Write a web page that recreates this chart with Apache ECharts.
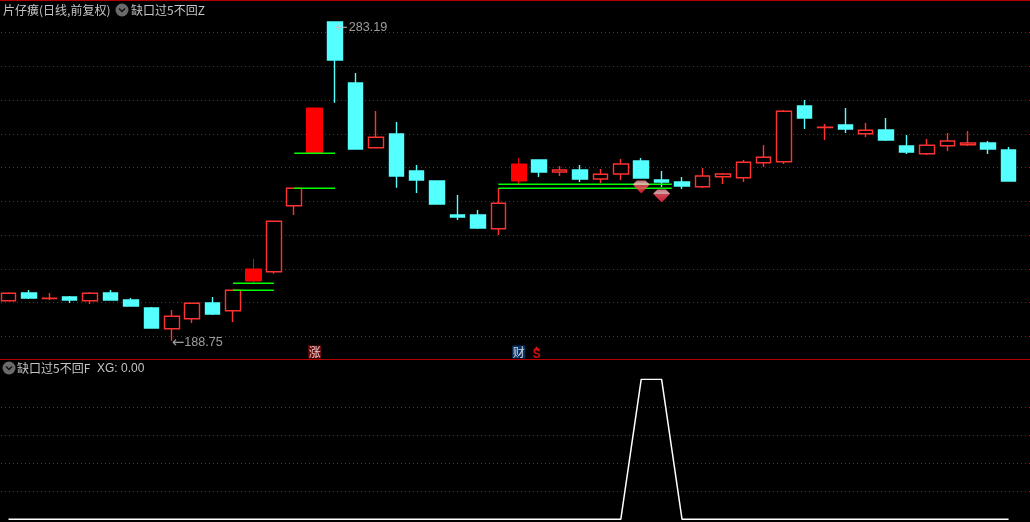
<!DOCTYPE html>
<html>
<head>
<meta charset="utf-8">
<style>html,body{margin:0;padding:0;background:#000}#c{width:1030px;height:522px}</style>
<script src="https://cdn.jsdelivr.net/npm/echarts@6/dist/echarts.min.js"></script>
</head>
<body>
<div id="c"></div>
<script>
// open, close, low, high of each daily candle
const opens  = [200.59,202.87,201.25,201.69,200.59,202.87,200.80,198.43,192.30,195.26,199.91,197.63,206.43,209.19,228.74,244.27,283.19,265.10,245.93,249.99,239.02,236.06,225.99,225.99,221.93,236.06,242.28,238.73,239.32,236.65,238.13,241.99,236.36,235.76,234.37,237.33,237.04,241.48,241.78,258.28,251.92,252.65,250.07,251.17,246.43,244.15,246.52,246.81,247.32,245.25];
const closes = [202.78,201.39,201.35,200.80,202.78,200.80,199.02,192.50,195.97,199.82,196.65,203.67,209.99,224.12,233.90,257.69,271.91,245.54,249.01,237.54,236.36,229.24,225.39,222.13,229.45,241.10,238.73,239.32,236.65,238.04,241.10,236.95,235.76,234.58,237.54,238.13,241.60,243.08,256.71,254.73,252.02,251.47,251.08,248.21,244.65,246.64,247.91,247.32,245.54,236.06];
const lows   = [200.59,201.10,200.80,199.91,199.61,200.80,199.02,192.50,188.75,193.99,196.36,194.28,205.84,208.59,225.99,244.27,259.26,245.54,245.93,234.07,232.50,229.24,224.50,221.84,220.06,235.17,237.24,237.54,235.76,235.47,236.36,236.95,234.28,233.69,233.99,235.17,235.76,240.21,241.10,251.47,248.21,250.28,249.10,247.91,244.06,243.76,244.95,246.43,244.06,236.06];
const highs  = [203.08,203.76,202.87,201.99,203.17,203.76,201.39,198.73,197.84,199.82,201.69,203.67,212.95,224.12,233.90,257.69,283.19,268.06,256.80,253.54,240.80,236.06,231.91,227.47,233.90,242.87,242.28,240.50,240.80,239.62,242.58,242.87,239.02,237.24,239.91,238.43,242.28,246.73,257.10,260.06,252.95,257.69,253.24,254.73,249.69,248.50,250.28,250.87,247.91,246.13];
const solidDays = [12, 15, 25];           // days drawn as a filled red candle
const xgValues = [0,0,0,0,0,0,0,0,0,0,0,0,0,0,0,0,0,0,0,0,0,0,0,0,0,0,0,0,0,0,0,1,1,0,0,0,0,0,0,0,0,0,0,0,0,0,0,0,0,0];
const categories = [...opens.map((_, i) => 'D' + (i + 1)), ''];   // one blank day at the right edge
const gapLines = [[11,13,205.75],[11,13,203.67],[14,16,244.27],[14,16,233.90],[24,32.5,235.08],[24,32.5,233.90]];
const diamondPoints = [[31,234.31],[32,231.62]];
const extremePoints = [[16,283.19,'283.19'],[8,188.75,'188.75']];
const eventPoints = [[15,185.4,'涨','#860a0a'],[25,185.4,'财','#0a3c78']];
const signalPoints = [[26,185.9,'S']];

const RED = '#ff3232', CYAN = '#54ffff', GRID = '#8a1c2c', TXT = '#c4c4c4';
const CJK = '"Noto Sans CJK SC","Liberation Sans",sans-serif';
const LAT = '"Liberation Sans",sans-serif';
const ohlc = i => [opens[i], closes[i], lows[i], highs[i]];
const flatStyle = { color: '#000', color0: CYAN, borderColor: RED, borderColor0: CYAN, borderColorDoji: RED, borderWidth: 1.4 };
const normalData = opens.map((_, i) => solidDays.includes(i) ? ['-','-','-','-'] : ohlc(i));
const solidData  = opens.map((_, i) => solidDays.includes(i) ? ohlc(i) : ['-','-','-','-']);
const dashGrid = { show: true, lineStyle: { color: GRID, type: [1, 3], dashOffset: 1.3, width: 1 }, showMinLine: false, showMaxLine: false };
const chevron = (x, y) => [
  { type: 'circle', shape: { cx: x, cy: y, r: 6.5 }, style: { fill: '#6a6a6a' } },
  { type: 'polyline', shape: { points: [[x - 3, y - 1.5], [x, y + 1.5], [x + 3, y - 1.5]] }, style: { stroke: '#111', lineWidth: 1.5, fill: 'none' } }
];
const headStyle = { color: TXT, fontSize: 12, fontWeight: 'normal', fontFamily: CJK };

const chart = echarts.init(document.getElementById('c'), null, { renderer: 'canvas' });
chart.setOption({
  backgroundColor: '#000',
  animation: false,
  title: [
    { text: '片仔癀(日线,前复权)', left: 3, top: 4, padding: 0, textStyle: headStyle },
    { text: '缺口过5不回Z', left: 131, top: 4, padding: 0, textStyle: headStyle },
    { text: '缺口过5不回F', left: 17, top: 362, padding: 0, textStyle: headStyle },
    { text: 'XG: 0.00', left: 97, top: 363, padding: 0, textStyle: { ...headStyle, fontFamily: LAT } }
  ],
  graphic: [
    { type: 'rect', shape: { x: 0, y: 0, width: 1030, height: 1 }, style: { fill: '#b00000' } },
    { type: 'rect', shape: { x: 0, y: 359, width: 1030, height: 1 }, style: { fill: '#b00000' } },
    ...chevron(122, 10),
    ...chevron(9, 368)
  ],
  grid: [
    { left: -1.7, top: -1.05, width: 1040.9, height: 371.25, outerBoundsMode: 'none' },
    { left: -1.7, top: 379.3, width: 1040.9, height: 140, outerBoundsMode: 'none' }
  ],
  xAxis: [
    { type: 'category', gridIndex: 0, data: categories, show: false },
    { type: 'value', gridIndex: 0, min: -0.5, max: 50.5, show: false },
    { type: 'category', gridIndex: 1, data: categories, show: false }
  ],
  yAxis: [
    { type: 'value', gridIndex: 0, min: 180, max: 290, interval: 10, scale: true,
      axisLine: { show: false }, axisTick: { show: false }, axisLabel: { show: false }, splitLine: dashGrid },
    { type: 'value', gridIndex: 1, min: 0, max: 1, interval: 0.2,
      axisLine: { show: false }, axisTick: { show: false }, axisLabel: { show: false }, splitLine: dashGrid }
  ],
  series: [
    { name: 'K', type: 'candlestick', xAxisIndex: 0, yAxisIndex: 0, barWidth: 15, clip: false,
      data: normalData, itemStyle: flatStyle, z: 3 },
    { name: 'KSolid', type: 'candlestick', xAxisIndex: 0, yAxisIndex: 0, barWidth: 16, clip: false,
      data: solidData, itemStyle: { color: '#ff0000', color0: '#ff0000', borderColor: '#ff0000', borderColor0: '#ff0000', borderWidth: 1 }, z: 3 },
    ...gapLines.map(g => ({
      type: 'line', xAxisIndex: 1, yAxisIndex: 0, data: [[g[0], g[2]], [g[1], g[2]]],
      symbol: 'none', lineStyle: { color: '#00ff00', width: 1.4 }, z: 4, silent: true
    })),
    { type: 'scatter', xAxisIndex: 0, yAxisIndex: 0, data: diamondPoints, z: 6,
      symbol: 'path://M4 0 L12 0 L16 4 L8 12.5 L0 4 Z', symbolSize: [17, 13],
      itemStyle: { color: { type: 'linear', x: 0, y: 0, x2: 0, y2: 1, colorStops: [
        { offset: 0, color: '#ff8a96' }, { offset: 0.3, color: '#ffd0d4' }, { offset: 0.36, color: '#ff5a6c' }, { offset: 1, color: '#ff2038' }
      ] } } },
    { type: 'scatter', xAxisIndex: 0, yAxisIndex: 0, symbolSize: 0, z: 6, clip: false,
      data: extremePoints.map((p, i) => ({ value: [p[0], p[1]],
        label: { show: true, position: 'right', distance: 0, offset: [0, i === 0 ? 6 : 2],
          formatter: '{a|←}{t|' + p[2] + '}',
          rich: { a: { color: TXT, fontSize: 15, fontFamily: '"DejaVu Sans",sans-serif', padding: [0, i === 0 ? 1 : 0, 0, 0] },
                  t: { color: TXT, fontSize: 12.6, fontFamily: LAT } } } })) },
    { type: 'scatter', xAxisIndex: 0, yAxisIndex: 0, symbol: 'rect', symbolSize: 13, z: 6,
      data: eventPoints.map(p => ({ value: [p[0], p[1]], itemStyle: { color: p[3] },
        label: { show: true, position: 'inside', formatter: p[2], color: '#fff', fontSize: 12, fontFamily: CJK } })) },
    { type: 'scatter', xAxisIndex: 0, yAxisIndex: 0, symbol: 'triangle', symbolSize: [7, 4], symbolOffset: [-2.5, -2], z: 6,
      itemStyle: { color: '#ff1010' },
      data: signalPoints.map(p => ({ value: [p[0], p[1]],
        label: { show: true, position: 'inside', offset: [0, 6], formatter: p[2], color: '#ff1010', fontSize: 12, fontWeight: 'bold', fontFamily: LAT } })) },
    { name: 'XG', type: 'line', xAxisIndex: 2, yAxisIndex: 1, data: xgValues, symbol: 'none',
      lineStyle: { color: '#ffffff', width: 1.5 }, z: 3 }
  ]
});
</script>
</body>
</html>
